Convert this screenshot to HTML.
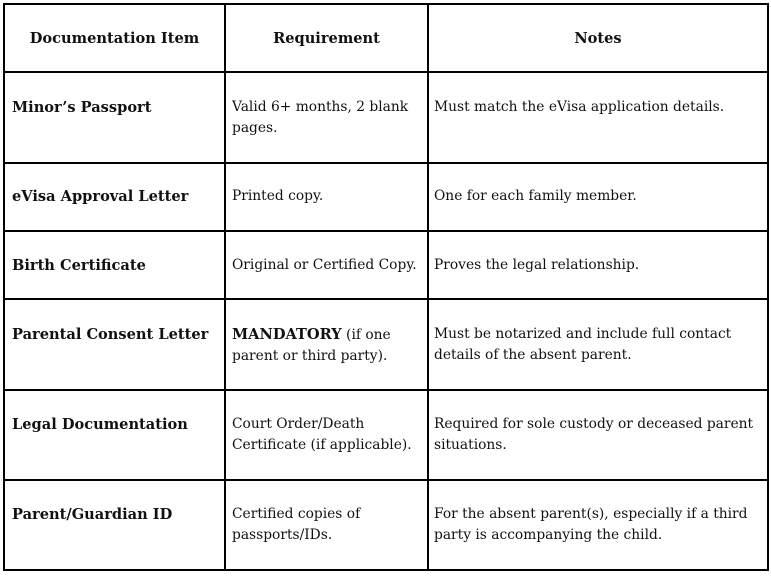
<!DOCTYPE html>
<html><head><style>
body{margin:0;width:771px;height:576px;background:#fff;position:relative;font-family:"DejaVu Serif","Liberation Serif",serif;font-size:13.8px;color:#111;overflow:hidden}
.h{position:absolute;background:#000}
.t{position:absolute;line-height:21px;white-space:nowrap}
b{font-weight:bold;font-size:14.6px}
</style></head><body>
<div class="h" style="left:3px;top:3px;width:766px;height:2px"></div>
<div class="h" style="left:3px;top:71px;width:766px;height:2px"></div>
<div class="h" style="left:3px;top:162px;width:766px;height:2px"></div>
<div class="h" style="left:3px;top:230px;width:766px;height:2px"></div>
<div class="h" style="left:3px;top:298px;width:766px;height:2px"></div>
<div class="h" style="left:3px;top:389px;width:766px;height:2px"></div>
<div class="h" style="left:3px;top:479px;width:766px;height:2px"></div>
<div class="h" style="left:3px;top:569px;width:766px;height:2px"></div>
<div class="h" style="left:3px;top:3px;width:2px;height:568px"></div>
<div class="h" style="left:224px;top:3px;width:2px;height:568px"></div>
<div class="h" style="left:427px;top:3px;width:2px;height:568px"></div>
<div class="h" style="left:767px;top:3px;width:2px;height:568px"></div>

<div class="t" style="left:5px;width:219px;top:28px;text-align:center"><b>Documentation Item</b></div>
<div class="t" style="left:226px;width:201px;top:28px;text-align:center"><b>Requirement</b></div>
<div class="t" style="left:429px;width:338px;top:28px;text-align:center"><b>Notes</b></div>

<div class="t" style="left:12px;top:97px"><b>Minor’s Passport</b></div>
<div class="t" style="left:232px;top:97px">Valid 6+ months, 2 blank<br>pages.</div>
<div class="t" style="left:434px;top:97px">Must match the eVisa application details.</div>

<div class="t" style="left:12px;top:186px"><b>eVisa Approval Letter</b></div>
<div class="t" style="left:232px;top:186px">Printed copy.</div>
<div class="t" style="left:434px;top:186px">One for each family member.</div>

<div class="t" style="left:12px;top:255px"><b>Birth Certificate</b></div>
<div class="t" style="left:232px;top:255px">Original or Certified Copy.</div>
<div class="t" style="left:434px;top:255px">Proves the legal relationship.</div>

<div class="t" style="left:12px;top:324px"><b>Parental Consent Letter</b></div>
<div class="t" style="left:232px;top:324px"><b>MANDATORY</b> (if one<br>parent or third party).</div>
<div class="t" style="left:434px;top:324px">Must be notarized and include full contact<br>details of the absent parent.</div>

<div class="t" style="left:12px;top:414px"><b>Legal Documentation</b></div>
<div class="t" style="left:232px;top:414px">Court Order/Death<br>Certificate (if applicable).</div>
<div class="t" style="left:434px;top:414px">Required for sole custody or deceased parent<br>situations.</div>

<div class="t" style="left:12px;top:504px"><b>Parent/Guardian ID</b></div>
<div class="t" style="left:232px;top:504px">Certified copies of<br>passports/IDs.</div>
<div class="t" style="left:434px;top:504px">For the absent parent(s), especially if a third<br>party is accompanying the child.</div>
</body></html>
